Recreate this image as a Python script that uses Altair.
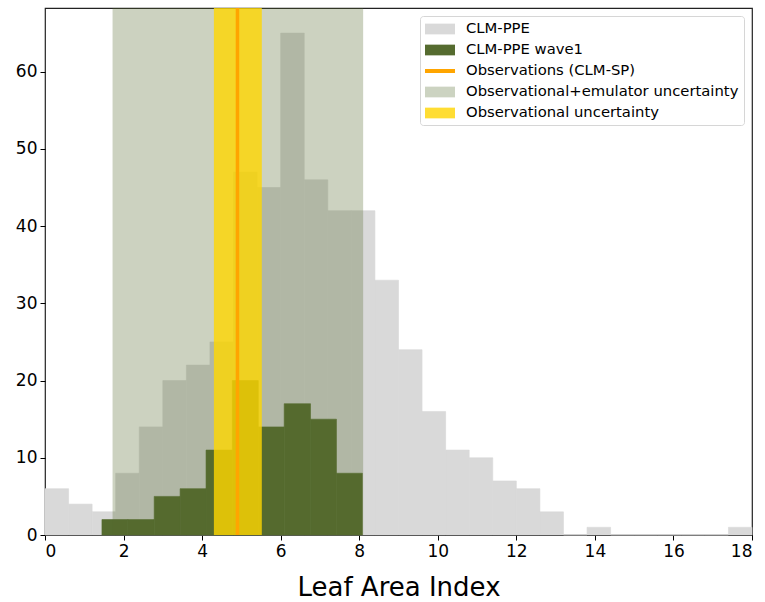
import altair as alt
import pandas as pd

# ---- data ----
ppe_start = [0.0, 0.6, 1.2, 1.8, 2.4, 3.0, 3.6, 4.2, 4.8, 5.4, 6.0, 6.6, 7.2, 7.8, 8.4,
             9.0, 9.6, 10.2, 10.8, 11.4, 12.0, 12.6, 13.2, 13.8, 14.4, 15.0, 15.6, 16.2, 16.8, 17.4]
ppe_end = [0.6, 1.2, 1.8, 2.4, 3.0, 3.6, 4.2, 4.8, 5.4, 6.0, 6.6, 7.2, 7.8, 8.4, 9.0,
           9.6, 10.2, 10.8, 11.4, 12.0, 12.6, 13.2, 13.8, 14.4, 15.0, 15.6, 16.2, 16.8, 17.4, 18.0]
ppe_counts = [6, 4, 3, 8, 14, 20, 22, 25, 47, 45, 65, 46, 42, 42, 33,
              24, 16, 11, 10, 7, 6, 3, 0, 1, 0, 0, 0, 0, 0, 1]

wave1_start = [1.45, 2.11, 2.78, 3.44, 4.10, 4.77, 5.43, 6.09, 6.76, 7.42]
wave1_end = [2.11, 2.78, 3.44, 4.10, 4.77, 5.43, 6.09, 6.76, 7.42, 8.08]
wave1_counts = [2, 2, 5, 6, 11, 20, 14, 17, 15, 8]

obs_value = [4.90]
obs_unc = [4.30, 5.52]
emu_unc = [1.72, 8.10]

x_ticks = [0, 2, 4, 6, 8, 10, 12, 14, 16, 18]
y_ticks = [0, 10, 20, 30, 40, 50, 60]

legend_labels = ["CLM-PPE", "CLM-PPE wave1", "Observations (CLM-SP)",
                 "Observational+emulator uncertainty", "Observational uncertainty"]
legend_colors = ["#d9d9d9", "#556b2f", "#ffa500", "#ccd3c1", "#ffdd33"]

# ---- tables ----
ppe_df = pd.DataFrame({"x0": ppe_start, "x1": ppe_end, "count": ppe_counts, "base": 0})
wave_df = pd.DataFrame({"x0": wave1_start, "x1": wave1_end, "count": wave1_counts, "base": 0})
emu_df = pd.DataFrame({"x0": [emu_unc[0]], "x1": [emu_unc[1]]})
obs_unc_df = pd.DataFrame({"x0": [obs_unc[0]], "x1": [obs_unc[1]]})
obs_df = pd.DataFrame({"x0": obs_value})
leg_df = pd.DataFrame({"label": legend_labels})

XT = "Leaf Area Index"
xscale = alt.Scale(domain=[0, 18], nice=False, zero=False)
yscale = alt.Scale(domain=[0, 68.25], nice=False)
xaxis = alt.Axis(values=x_ticks, title=XT, titleFontSize=26, titlePadding=15,
                 titleFont="DejaVu Sans", titleFontWeight="normal", titleColor="black")
yaxis = alt.Axis(values=y_ticks, title=None)

ppe = alt.Chart(ppe_df).mark_rect(color="#d9d9d9", stroke="#d9d9d9", strokeWidth=0.6).encode(
    x=alt.X("x0:Q", scale=xscale, axis=xaxis, title=XT),
    x2="x1:Q",
    y=alt.Y("count:Q", scale=yscale, axis=yaxis),
    y2="base:Q",
)
wave = alt.Chart(wave_df).mark_rect(color="#556b2f", stroke="#556b2f", strokeWidth=0.6).encode(
    x=alt.X("x0:Q", scale=xscale, axis=xaxis, title=XT),
    x2="x1:Q",
    y=alt.Y("count:Q", scale=yscale, axis=yaxis),
    y2="base:Q",
)
emu = alt.Chart(emu_df).mark_rect(color="#556b2f", opacity=0.3).encode(
    x=alt.X("x0:Q", scale=xscale, axis=xaxis, title=XT),
    x2="x1:Q",
)
ounc = alt.Chart(obs_unc_df).mark_rect(color="#ffd700", opacity=0.8).encode(
    x=alt.X("x0:Q", scale=xscale, axis=xaxis, title=XT),
    x2="x1:Q",
)
obs = alt.Chart(obs_df).mark_rule(color="#ffa500", strokeWidth=3.5).encode(
    x=alt.X("x0:Q", scale=xscale, axis=xaxis, title=XT),
)

rect_path = "M-1,-0.67H2.75V0.67H-1Z"
line_path = "M-1,-0.25H2.75V0.25H-1Z"
leg = alt.Chart(leg_df).mark_point(filled=True, opacity=1).encode(
    color=alt.Color("label:N", scale=alt.Scale(domain=legend_labels, range=legend_colors),
                    title=None,
                    legend=alt.Legend(orient="top-right", offset=8, title=None)),
    shape=alt.Shape("label:N", scale=alt.Scale(domain=legend_labels,
                    range=[rect_path, rect_path, line_path, rect_path, rect_path]),
                    title=None,
                    legend=alt.Legend(orient="top-right", offset=8, title=None)),
).transform_filter("datum.label == 'none'")

chart = alt.layer(ppe, wave, emu, ounc, obs, leg).properties(
    width=707, height=527,
    padding={"left": 45, "top": 8, "right": 13, "bottom": 67},
    autosize=alt.AutoSizeParams(type="none"),
    background="white",
).configure_view(
    stroke="#222", strokeWidth=1.2
).configure_axis(
    grid=False, domain=False,
    labelFont="DejaVu Sans", labelFontSize=17, labelColor="black",
    tickColor="black", tickSize=5, tickWidth=1, labelPadding=3,
).configure_legend(
    labelFont="DejaVu Sans", labelFontSize=14.8, labelColor="black",
    symbolSize=256, symbolStrokeWidth=0, symbolOpacity=1,
    padding=5, rowPadding=6, labelOffset=25,
    strokeColor="#d6d6d6", fillColor="white", cornerRadius=3,
    labelLimit=400,
)

chart.save("out.html", embed_options={"renderer": "svg", "actions": False})
